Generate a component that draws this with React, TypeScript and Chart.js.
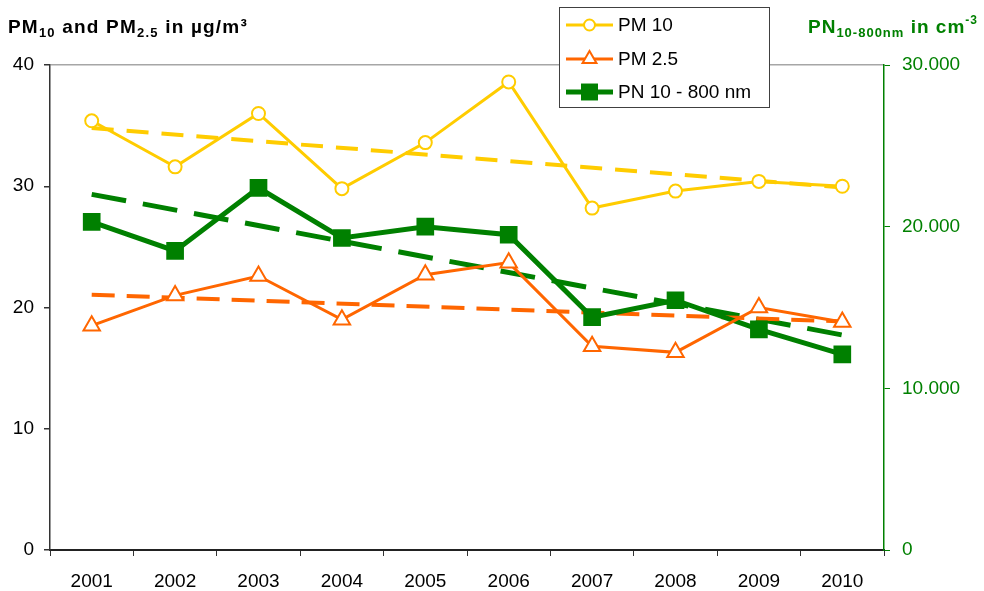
import { useEffect, useRef } from 'react';
import { Chart, registerables } from 'chart.js';
import { drawPoint } from 'chart.js/helpers';

Chart.register(...registerables);

const years = ['2001', '2002', '2003', '2004', '2005', '2006', '2007', '2008', '2009', '2010'];
const pm10 = [35.4, 31.6, 36.0, 29.8, 33.6, 38.6, 28.2, 29.6, 30.4, 30.0];
const pm25 = [18.5, 21.0, 22.6, 19.0, 22.7, 23.7, 16.8, 16.3, 20.0, 18.8];
const pn = [20300, 18500, 22400, 19300, 20000, 19500, 14400, 15450, 13650, 12100];
const pm10Trend = [34.8, null, null, null, null, null, null, null, null, 29.9];
const pm25Trend = [21.05, null, null, null, null, null, null, null, null, 18.85];
const pnTrend = [22000, null, null, null, null, null, null, null, null, 13300];
const rightTickLabels = ['0', '10.000', '20.000', '30.000'];
const legendLabels = ['PM 10', 'PM 2.5', 'PN 10 - 800 nm'];

const FONT = "'Liberation Sans', Arial, sans-serif";
const YELLOW = '#FFCC00';
const ORANGE = '#FF6600';
const GREEN = '#008000';

type Seg = { t: string; size: number; dy: number };

function drawRich(ctx: CanvasRenderingContext2D, x: number, y: number, segs: Seg[], color: string, spacing: number) {
  ctx.save();
  ctx.fillStyle = color;
  ctx.textBaseline = 'alphabetic';
  ctx.textAlign = 'left';
  (ctx as any).letterSpacing = spacing + 'px';
  let cx = x;
  for (const s of segs) {
    ctx.font = `bold ${s.size}px ${FONT}`;
    ctx.fillText(s.t, cx, y + s.dy);
    cx += ctx.measureText(s.t).width;
  }
  ctx.restore();
}

const overlayPlugin = {
  id: 'overlay',
  afterDraw(chart: any) {
    const ctx: CanvasRenderingContext2D = chart.ctx;
    // axis titles
    drawRich(ctx, 8, 33, [
      { t: 'PM', size: 19, dy: 0 },
      { t: '10', size: 13, dy: 4 },
      { t: ' and PM', size: 19, dy: 0 },
      { t: '2.5', size: 13, dy: 4 },
      { t: ' in µg/m³', size: 19, dy: 0 },
    ], '#000', 1.2);
    drawRich(ctx, 808, 33, [
      { t: 'PN', size: 19, dy: 0 },
      { t: '10-800nm', size: 13, dy: 4 },
      { t: ' in cm', size: 19, dy: 0 },
      { t: '-3', size: 12, dy: -9 },
    ], GREEN, 1);

    // legend
    const bx = 559.5, by = 7.5, bw = 210, bh = 100;
    ctx.save();
    ctx.fillStyle = '#fff';
    ctx.fillRect(bx, by, bw, bh);
    ctx.strokeStyle = '#404040';
    ctx.lineWidth = 1;
    ctx.strokeRect(bx, by, bw, bh);
    const rowsY = [25, 59, 92];
    const radii = [5.5, 8, 12];
    for (let i = 0; i < 3; i++) {
      const ds = chart.data.datasets[i];
      const y = rowsY[i];
      ctx.beginPath();
      ctx.strokeStyle = ds.borderColor;
      ctx.lineWidth = ds.borderWidth;
      ctx.setLineDash([]);
      ctx.moveTo(566, y);
      ctx.lineTo(613, y);
      ctx.stroke();
      ctx.fillStyle = ds.pointBackgroundColor;
      ctx.strokeStyle = ds.pointBorderColor;
      ctx.lineWidth = ds.pointBorderWidth;
      drawPoint(ctx, { pointStyle: ds.pointStyle, rotation: 0, radius: radii[i], borderWidth: ds.pointBorderWidth } as any, 589.5, y);
      ctx.fillStyle = '#000';
      ctx.font = `19px ${FONT}`;
      ctx.textBaseline = 'middle';
      ctx.textAlign = 'left';
      ctx.fillText(legendLabels[i], 618, y + 1);
    }
    ctx.restore();
  },
};

export default function App() {
  const ref = useRef<HTMLCanvasElement | null>(null);

  useEffect(() => {
    if (!ref.current) return;
    const tickFont = { size: 19, family: FONT };
    const chart = new Chart(ref.current, {
      type: 'line',
      data: {
        labels: years,
        datasets: [
          {
            label: 'PM 10', data: pm10, yAxisID: 'y', borderColor: YELLOW, borderWidth: 3,
            pointStyle: 'circle', pointRadius: 6.5, pointBorderWidth: 2,
            pointBackgroundColor: '#fff', pointBorderColor: YELLOW, tension: 0,
          },
          {
            label: 'PM 2.5', data: pm25, yAxisID: 'y', borderColor: ORANGE, borderWidth: 3,
            pointStyle: 'triangle', pointRadius: 9.5, pointBorderWidth: 2,
            pointBackgroundColor: '#fff', pointBorderColor: ORANGE, tension: 0,
          },
          {
            label: 'PN 10 - 800 nm', data: pn, yAxisID: 'y1', borderColor: GREEN, borderWidth: 5,
            pointStyle: 'rect', pointRadius: 12.5, pointBorderWidth: 0,
            pointBackgroundColor: GREEN, pointBorderColor: GREEN, tension: 0,
          },
          {
            label: 'PM 10 trend', data: pm10Trend, yAxisID: 'y', borderColor: YELLOW, borderWidth: 4,
            borderDash: [22, 13], pointRadius: 0, spanGaps: true, tension: 0,
          },
          {
            label: 'PM 2.5 trend', data: pm25Trend, yAxisID: 'y', borderColor: ORANGE, borderWidth: 4,
            borderDash: [23, 12], pointRadius: 0, spanGaps: true, tension: 0,
          },
          {
            label: 'PN trend', data: pnTrend, yAxisID: 'y1', borderColor: GREEN, borderWidth: 5,
            borderDash: [35, 17], pointRadius: 0, spanGaps: true, tension: 0,
          },
        ] as any,
      },
      options: {
        responsive: false,
        animation: false,
        layout: { padding: { top: 65, left: 0, right: 0, bottom: 0 } },
        plugins: { legend: { display: false }, tooltip: { enabled: false } },
        scales: {
          x: {
            type: 'category',
            offset: true,
            grid: { offset: true, drawOnChartArea: false, tickLength: 6, color: '#333', lineWidth: 1 },
            border: { color: '#222', width: 2 },
            ticks: { font: tickFont, color: '#000', padding: 14, maxRotation: 0, autoSkip: false },
            afterFit: (s: any) => { s.height = 41; },
          },
          y: {
            position: 'left',
            min: 0,
            max: 40,
            ticks: { stepSize: 10, font: tickFont, color: '#000', padding: 10 },
            grid: {
              drawOnChartArea: true,
              tickLength: 6,
              tickColor: '#333',
              color: (c: any) => (c.tick && c.tick.value === 40 ? '#a6a6a6' : 'rgba(0,0,0,0)'),
              lineWidth: 1.5,
            },
            border: { color: '#333', width: 1.5 },
            afterFit: (s: any) => { s.width = 50; },
          },
          y1: {
            position: 'right',
            min: 0,
            max: 30000,
            ticks: {
              stepSize: 10000, font: tickFont, color: GREEN, padding: 12,
              callback: (_v: any, i: number) => rightTickLabels[i],
            },
            grid: { drawOnChartArea: false, tickLength: 6, color: GREEN },
            border: { color: GREEN, width: 1.5 },
            afterFit: (s: any) => { s.width = 100; },
          },
        },
      } as any,
      plugins: [overlayPlugin],
    });
    return () => chart.destroy();
  }, []);

  return (
    <div style={{ position: 'fixed', left: 0, top: 0, width: 984, height: 591, background: '#fff' }}>
      <canvas ref={ref} width={984} height={591} />
    </div>
  );
}
